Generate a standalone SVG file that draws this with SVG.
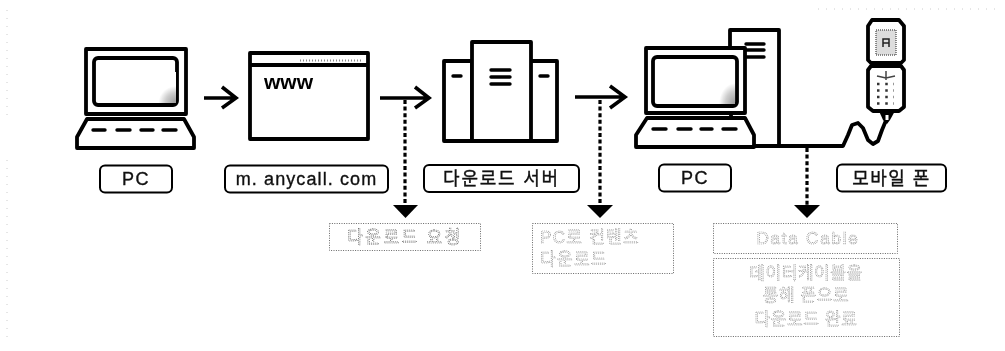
<svg xmlns="http://www.w3.org/2000/svg" width="1005" height="351" viewBox="0 0 1005 351">
<style>
.o{fill:none;stroke:#000;stroke-width:3.8;stroke-linejoin:round}
.w{fill:#fff;stroke:#000;stroke-width:3.8;stroke-linejoin:round}
.k{fill:none;stroke:#000;stroke-width:3.4;stroke-linecap:round}
.lb{fill:#fff;stroke:#000;stroke-width:2}
.a{fill:none;stroke:#000;stroke-width:3.6;stroke-linejoin:miter}
.d{fill:none;stroke:#000;stroke-width:3.2;stroke-dasharray:4 2.6}
.h{fill:#000;stroke:none}
.x{font-family:"Liberation Sans","Noto Sans CJK KR",sans-serif;font-size:18px;fill:#111;stroke:#111;stroke-width:.35;text-anchor:middle;letter-spacing:.6px}
.bx{fill:none;stroke:#666;stroke-width:1;stroke-dasharray:1 1.4}
.q{font-family:"Liberation Sans","Noto Sans CJK KR",sans-serif;font-size:17px;fill:#fff;stroke:#555;stroke-width:.7;stroke-dasharray:1 .9;letter-spacing:.6px}
.ql{stroke:#888}
.s{fill:none;stroke:#ccc;stroke-width:1;stroke-dasharray:1 7}
.n{filter:grayscale(1)}
</style>
<defs>
<radialGradient id="shade" gradientUnits="objectBoundingBox" cx="1" cy="1" r=".55">
<stop offset="0" stop-color="#999"/><stop offset=".6" stop-color="#ccc"/><stop offset="1" stop-color="#fff"/>
</radialGradient>
</defs>
<rect width="1005" height="351" fill="#fff"/>
<g id="scan-edge"><path class="s" d="M7 10V120M7 160V340M818 9H1000"/></g>

<g id="connectors">
<path class="a" d="M204 98H236M222 87L236 98L222 108"/>
<path class="a" d="M380 98H429M415 87L429 98L415 108"/>
<path class="a" d="M575 97H625M610 86L625 97L610 108"/>
<path class="d" d="M405 100V206"/>
<path class="h" d="M393 205H418L405.500 218Z"/>
<path class="d" d="M600 100V206"/>
<path class="h" d="M587 205H613L600 218Z"/>
<path class="o" d="M754 146H843L848 135L852 125L858 123L863 128L868 140L873 144L878 141L882 130L887 118"/>
<path class="d" d="M807 148V206"/>
<path class="h" d="M794 205H820L807 218Z"/>
</g>

<g id="node-pc1" class="n">
<rect class="o" x="86" y="49" width="100" height="65"/>
<rect class="o" x="94" y="58" width="83" height="47" rx="4"/>
<rect x="144" y="72" width="32" height="31" fill="url(#shade)"/>
<path class="w" d="M87 119H184L194 137V148H77V137Z"/>
<path class="k" d="M93 130H105M117 130H130M141 130H153M163 130H176"/>
<rect class="lb" x="100" y="165.500" width="72" height="27" rx="5"/>
<text class="x" x="136" y="185" style="letter-spacing:1.500px">PC</text>
</g>

<g id="node-web" class="n">
<rect class="o" x="250" y="53" width="118" height="86"/>
<path class="o" d="M250 65H368"/>
<path d="M300 60.500H362" fill="none" stroke="#888" stroke-width="2" stroke-dasharray="1 2"/>
<text x="264" y="89" font-family="'Liberation Sans',sans-serif" font-weight="700" font-size="21" fill="#000">www</text>
<rect class="lb" x="225" y="165.500" width="163" height="27" rx="5"/>
<text class="x" x="306.500" y="185" style="letter-spacing:1.100px">m. anycall. com</text>
</g>

<g id="node-server" class="n">
<rect class="w" x="444" y="61" width="28" height="80"/>
<rect class="w" x="530" y="61" width="27" height="80"/>
<rect class="w" x="472" y="42" width="59" height="99"/>
<path class="k" d="M453 76H461M540 76H548"/>
<path class="k" d="M491 70H510M491 77H510M491 84H510"/>
<rect class="lb" x="424" y="165" width="155" height="27" rx="5"/>
<text class="x" x="501.500" y="185" style="letter-spacing:1.800px">다운로드 서버</text>
</g>

<g id="node-pc2" class="n">
<path class="o" d="M730 48V30H779V146"/>
<path class="k" d="M746 44H764M746 50H764M746 57H764" stroke-linecap="butt"/>
<rect class="w" x="646" y="48" width="99" height="65"/>
<rect class="o" x="653" y="57" width="84" height="49" rx="4"/>
<rect x="706" y="66" width="29" height="38" fill="url(#shade)"/>
<path class="o" d="M731 113V118"/>
<path class="w" d="M647 118H745L754 135V147H636V135Z"/>
<path class="k" d="M653 129H666M678 129H691M701 129H712M723 129H736"/>
<rect class="lb" x="659" y="164.500" width="72" height="27" rx="5"/>
<text class="x" x="695" y="184" style="letter-spacing:1.500px">PC</text>
</g>

<g id="node-phone" class="n">
<path class="w" d="M872 20H899L904 26V60L901 63H871L868 60V26Z"/>
<path class="w" d="M871 66H901L904 70V107L899 111H873L868 107V70Z"/>
<rect x="876" y="30" width="20" height="25" fill="#ddd" stroke="#666" stroke-width="1.500" stroke-dasharray="1 1"/>
<path d="M883 47V39H889V47M883 43H889" fill="none" stroke="#222" stroke-width="1.500"/>
<path d="M877 76L886 78L895 76M886 71V80" fill="none" stroke="#444" stroke-width="1.500"/>
<path d="M877 84H894M877 90.500H894M877 97H894M877 103.500H894" fill="none" stroke="#333" stroke-width="2.500" stroke-dasharray="2.500 5.750"/>
<path class="h" d="M879 111H895L890 120L887 124L883 120Z"/>
<rect x="885.500" y="115" width="3" height="5" fill="#fff"/>
<rect class="lb" x="837" y="164.500" width="109" height="27" rx="5"/>
<text class="x" x="891.500" y="185" style="letter-spacing:1.500px">모바일 폰</text>
</g>

<g id="note-request" class="n">
<rect class="bx" x="329.500" y="223.500" width="151" height="27"/>
<text class="q" x="405" y="243" text-anchor="middle" style="letter-spacing:2.400px">다운로드 요청</text>
</g>
<g id="note-content" class="n">
<rect class="bx" x="532.500" y="223.500" width="141" height="50"/>
<text class="q ql" x="540" y="243" style="letter-spacing:1.300px">PC로 컨텐츠</text>
<text class="q ql" x="540" y="265" style="letter-spacing:1.300px">다운로드</text>
</g>
<g id="note-cable" class="n">
<rect class="bx" x="713.500" y="223.500" width="184" height="30"/>
<text class="q ql" x="808" y="244" text-anchor="middle" style="letter-spacing:1.800px">Data Cable</text>
</g>
<g id="note-done" class="n">
<rect class="bx" x="713.500" y="258.500" width="186" height="78"/>
<text class="q ql" x="806" y="279" text-anchor="middle">데이터케이블을</text>
<text class="q ql" x="806" y="301" text-anchor="middle">통해 폰으로</text>
<text class="q ql" x="806" y="325" text-anchor="middle">다운로드 완료</text>
</g>
</svg>
